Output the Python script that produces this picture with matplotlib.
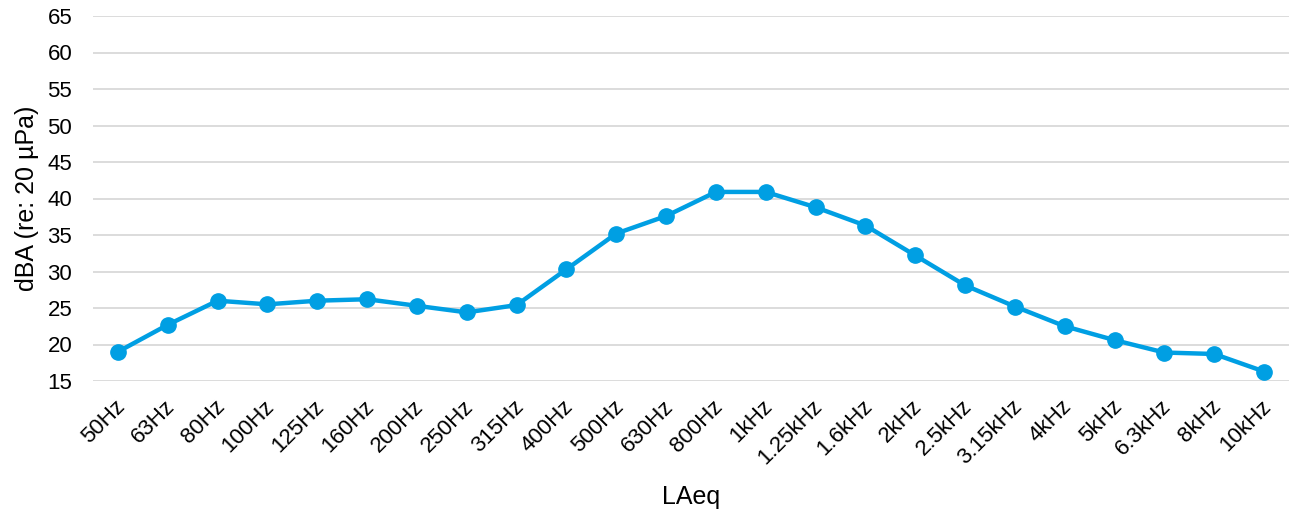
import matplotlib
matplotlib.use("Agg")
import matplotlib.pyplot as plt
from matplotlib.ticker import MultipleLocator
from matplotlib.transforms import ScaledTranslation

plt.rcParams['font.family'] = ['Liberation Sans', 'DejaVu Sans']

bands = ["50Hz", "63Hz", "80Hz", "100Hz", "125Hz", "160Hz", "200Hz", "250Hz",
         "315Hz", "400Hz", "500Hz", "630Hz", "800Hz", "1kHz", "1.25kHz", "1.6kHz",
         "2kHz", "2.5kHz", "3.15kHz", "4kHz", "5kHz", "6.3kHz", "8kHz", "10kHz"]
laeq = [19.0, 22.7, 26.0, 25.5, 26.0, 26.2, 25.3, 24.4,
        25.4, 30.3, 35.2, 37.6, 40.9, 40.9, 38.8, 36.3,
        32.2, 28.1, 25.2, 22.5, 20.6, 18.9, 18.7, 16.3]

W, H = 1291, 520
fig = plt.figure(figsize=(W / 100, H / 100), dpi=100)
left, right, top, bottom = 93, 1289, 16, 381
ax = fig.add_axes([left / W, 1 - bottom / H, (right - left) / W, (bottom - top) / H])

x = list(range(len(bands)))
ax.plot(x, laeq, color='#009FE3', lw=3.2, marker='o', markersize=11,
        solid_joinstyle='round', zorder=3)

ax.set_xlim(-0.5, len(bands) - 0.5)
ax.set_ylim(15, 65)
ax.yaxis.set_major_locator(MultipleLocator(5))
ax.grid(axis='y', color='#D9D9D9', lw=1.3)
ax.set_axisbelow(True)
for s in ax.spines.values():
    s.set_visible(False)
ax.tick_params(axis='both', length=0, labelsize=16, colors='black')
ax.tick_params(axis='y', pad=15)
ax.set_xticks(x)
ax.set_xticklabels(bands, rotation=45, ha='right', va='center', rotation_mode='anchor')
ax.tick_params(axis='x', pad=16)
offset = ScaledTranslation(4 / 100, 0, fig.dpi_scale_trans)
for lab in ax.get_xticklabels():
    lab.set_transform(lab.get_transform() + offset)

ax.set_ylabel('dBA (re: 20 µPa)', fontsize=18, labelpad=6)
ax.set_xlabel('LAeq', fontsize=18, labelpad=12)

fig.savefig('out.png', dpi=100)
